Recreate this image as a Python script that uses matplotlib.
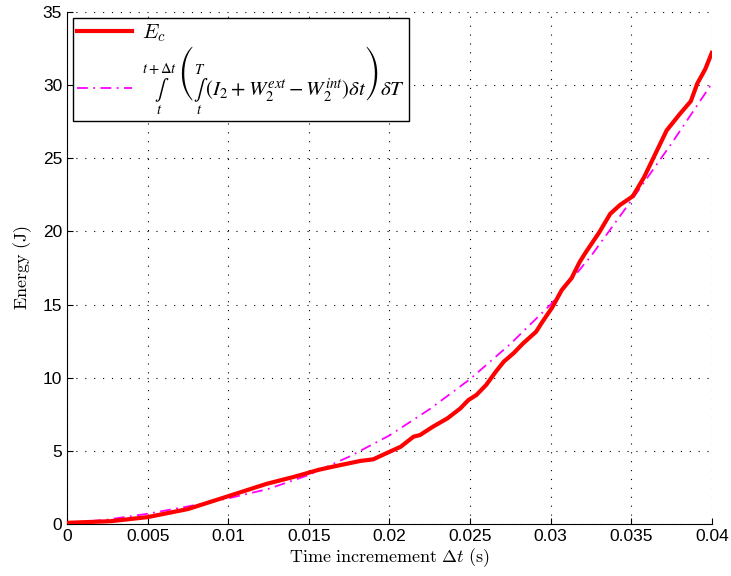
import matplotlib
matplotlib.use("Agg")
import matplotlib.pyplot as plt

plt.rcParams['mathtext.fontset'] = 'cm'
plt.rcParams['font.family'] = ['Liberation Sans', 'DejaVu Sans']

# red curve E_c
t_ec = [0.0, 0.0027, 0.005, 0.0075, 0.01, 0.0124, 0.014, 0.0145, 0.0156, 0.0165,
        0.0182, 0.019, 0.0198, 0.0207, 0.0215, 0.0219, 0.0227, 0.0236, 0.0244, 0.0249,
        0.0254, 0.026, 0.0266, 0.0271, 0.0277, 0.0283, 0.0291, 0.0295, 0.0301, 0.0307,
        0.0313, 0.0318, 0.0322, 0.033, 0.0337, 0.0343, 0.0351, 0.0358, 0.0365, 0.0372,
        0.038, 0.0387, 0.0391, 0.0396, 0.04]
e_c = [0.08, 0.19, 0.47, 1.02, 1.9, 2.75, 3.2, 3.35, 3.7, 3.92,
       4.31, 4.42, 4.83, 5.28, 5.97, 6.08, 6.65, 7.22, 7.9, 8.47,
       8.82, 9.5, 10.41, 11.1, 11.67, 12.35, 13.14, 13.83, 14.8, 16.0,
       16.8, 17.9, 18.6, 19.9, 21.2, 21.8, 22.4, 23.7, 25.3, 26.9,
       28.0, 28.9, 30.1, 31.1, 32.2]

# magenta dash-dot curve (double integral)
t_int = [0.0, 0.0025, 0.005, 0.0075, 0.01, 0.0125, 0.015, 0.0175, 0.02,
         0.0225, 0.025, 0.0275, 0.03, 0.0325, 0.035, 0.0375, 0.04]
e_int = [0.05, 0.3, 0.7, 1.2, 1.75, 2.4, 3.35, 4.6, 6.05,
         7.85, 9.9, 12.3, 15.0, 18.3, 22.1, 26.0, 30.1]

xticks = [0, 0.005, 0.01, 0.015, 0.02, 0.025, 0.03, 0.035, 0.04]
xticklabels = ['0', '0.005', '0.01', '0.015', '0.02', '0.025', '0.03', '0.035', '0.04']
yticks = [0, 5, 10, 15, 20, 25, 30, 35]

fig = plt.figure(figsize=(7.31, 5.76), dpi=100)
ax = fig.add_axes([0.0917, 0.0903, 0.882, 0.889])

ax.plot(t_ec, e_c, color='red', lw=3, label=r'$E_c$', zorder=3)
ax.plot(t_int, e_int, color='magenta', lw=1.3, ls='-.', dashes=(6, 3, 1, 3),
        label=r'$\underset{t}{\overset{t+\Delta t}{\int}}\,\left(\underset{t}{\overset{T}{\int}}\,(I_2+W_2^{ext}-W_2^{int})\delta t\right)\delta T$',
        zorder=2)

ax.set_xlim(0, 0.04)
ax.set_ylim(0, 35)
ax.set_xticks(xticks)
ax.set_xticklabels(xticklabels)
ax.set_yticks(yticks)
ax.tick_params(direction='in', length=4, labelsize=12.5, width=0.8)

ax.spines['top'].set_visible(False)
ax.spines['right'].set_visible(False)
ax.grid(True, color='black', lw=0.8, linestyle=(0, (1, 7)))

ax.set_xlabel(r'$\mathrm{Time\ incremement}\ \Delta t\ \mathrm{(s)}$', fontsize=13, labelpad=2)
ax.set_ylabel(r'$\mathrm{Energy\ (J)}$', fontsize=13, labelpad=6)

leg = ax.legend(loc='upper left', fontsize=15, fancybox=False, framealpha=1,
                edgecolor='black', borderaxespad=0.3, handlelength=2.6,
                labelspacing=0.0, borderpad=0.2, handletextpad=0.5)
leg.get_frame().set_linewidth(1.0)
# cm delimiters break on the tall formula, stix sizes them properly
leg.get_texts()[1].set_math_fontfamily('stix')

fig.savefig('out.png', dpi=100)
